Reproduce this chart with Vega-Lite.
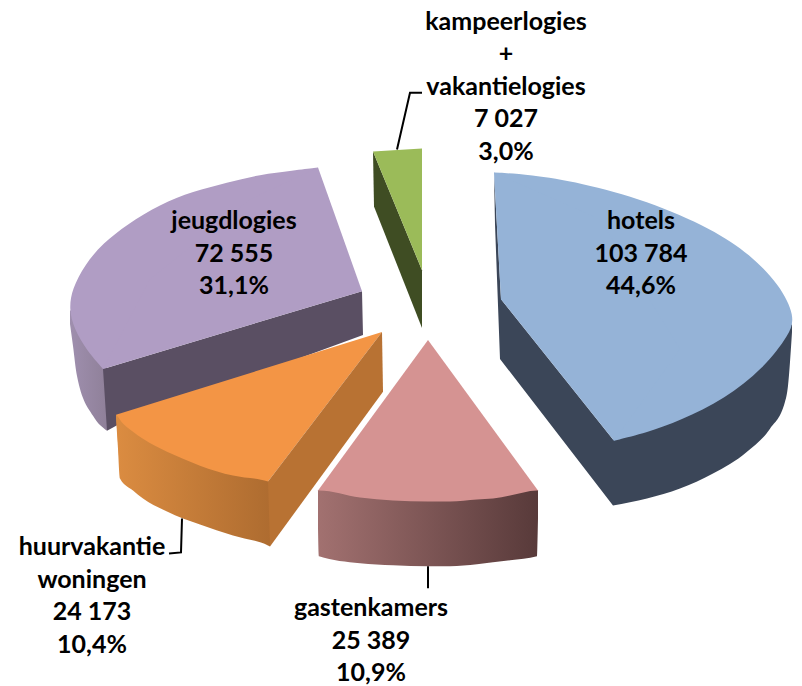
{"$schema":"https://vega.github.io/schema/vega-lite/v6.json","width":802,"height":686,"padding":0,"autosize":{"type":"fit","contains":"padding"},"background":"white","config":{"view":{"stroke":null}},
"datasets":{"outlines":[
{"f":"ji","i":0,"x":103,"y":370},{"f":"ji","i":1,"x":362,"y":292},{"f":"ji","i":2,"x":363,"y":336},{"f":"ji","i":3,"x":118,"y":426},{"f":"ji","i":4,"x":107,"y":432},
{"f":"jc","i":0,"x":318,"y":168},{"f":"jc","i":1,"x":293,"y":171},{"f":"jc","i":2,"x":260,"y":175},{"f":"jc","i":3,"x":227,"y":183},{"f":"jc","i":4,"x":193,"y":192},{"f":"jc","i":5,"x":160,"y":205},{"f":"jc","i":6,"x":127,"y":225},{"f":"jc","i":7,"x":103,"y":244},{"f":"jc","i":8,"x":85,"y":265},{"f":"jc","i":9,"x":72,"y":290},{"f":"jc","i":10,"x":69,"y":310},{"f":"jc","i":11,"x":74,"y":330},{"f":"jc","i":12,"x":87,"y":352},{"f":"jc","i":13,"x":103,"y":370},
{"f":"jp","i":0,"x":318,"y":168},{"f":"jp","i":1,"x":362,"y":292},{"f":"jp","i":2,"x":103,"y":370},{"f":"jp","i":3,"x":150,"y":280},{"f":"jp","i":4,"x":250,"y":200},
{"f":"gs","i":0,"x":373,"y":152},{"f":"gs","i":1,"x":422,"y":271},{"f":"gs","i":2,"x":422,"y":329},{"f":"gs","i":3,"x":374,"y":207},
{"f":"gt","i":0,"x":373,"y":152},{"f":"gt","i":1,"x":422,"y":149},{"f":"gt","i":2,"x":422,"y":271},
{"f":"hs","i":0,"x":494,"y":173},{"f":"hs","i":1,"x":501,"y":300},{"f":"hs","i":2,"x":614,"y":442},{"f":"hs","i":3,"x":613,"y":507},{"f":"hs","i":4,"x":500,"y":360},{"f":"hs","i":5,"x":495,"y":225},
{"f":"hc","i":0,"x":494,"y":173},{"f":"hc","i":1,"x":530,"y":175},{"f":"hc","i":2,"x":580,"y":183},{"f":"hc","i":3,"x":647,"y":201},{"f":"hc","i":4,"x":713,"y":230},{"f":"hc","i":5,"x":750,"y":255},{"f":"hc","i":6,"x":780,"y":286},{"f":"hc","i":7,"x":795,"y":317},{"f":"hc","i":8,"x":790,"y":335},{"f":"hc","i":9,"x":763,"y":370},{"f":"hc","i":10,"x":725,"y":400},{"f":"hc","i":11,"x":680,"y":422},{"f":"hc","i":12,"x":647,"y":434},{"f":"hc","i":13,"x":614,"y":442},
{"f":"hp","i":0,"x":494,"y":173},{"f":"hp","i":1,"x":501,"y":300},{"f":"hp","i":2,"x":614,"y":442},{"f":"hp","i":3,"x":680,"y":350},{"f":"hp","i":4,"x":600,"y":220},
{"f":"os","i":0,"x":382,"y":333},{"f":"os","i":1,"x":268,"y":483},{"f":"os","i":2,"x":270,"y":548},{"f":"os","i":3,"x":383,"y":393},
{"f":"ot","i":0,"x":382,"y":333},{"f":"ot","i":1,"x":268,"y":483},{"f":"ot","i":2,"x":268,"y":505},{"f":"ot","i":3,"x":120,"y":472},{"f":"ot","i":4,"x":116,"y":416},
{"f":"pt","i":0,"x":428,"y":341},{"f":"pt","i":1,"x":538,"y":492},{"f":"pt","i":2,"x":538,"y":512},{"f":"pt","i":3,"x":318,"y":512},{"f":"pt","i":4,"x":318,"y":492},
{"f":"l1","i":0,"x":397,"y":150},{"f":"l1","i":1,"x":410,"y":93},{"f":"l1","i":2,"x":422,"y":93},
{"f":"l2","i":0,"x":182,"y":520},{"f":"l2","i":1,"x":181,"y":554},{"f":"l2","i":2,"x":169,"y":555},
{"f":"l3","i":0,"x":428,"y":568},{"f":"l3","i":1,"x":428,"y":590}
],"bands":[
{"f":"jo","x":70,"y":312,"y2":325},{"f":"jo","x":73,"y":310,"y2":347},{"f":"jo","x":77,"y":310,"y2":377},{"f":"jo","x":93,"y":340,"y2":417},{"f":"jo","x":107,"y":365,"y2":432},
{"f":"ho","x":613,"y":440,"y2":507},{"f":"ho","x":647,"y":425,"y2":500},{"f":"ho","x":680,"y":410,"y2":490},{"f":"ho","x":713,"y":395,"y2":475},{"f":"ho","x":747,"y":375,"y2":453},{"f":"ho","x":770,"y":355,"y2":430},{"f":"ho","x":785,"y":335,"y2":403},{"f":"ho","x":788,"y":330,"y2":387},{"f":"ho","x":792,"y":325,"y2":333},
{"f":"of","x":116,"y":416,"y2":418},{"f":"of","x":118,"y":418,"y2":450},{"f":"of","x":120,"y":421,"y2":480},{"f":"of","x":133,"y":433,"y2":492},{"f":"of","x":143,"y":440,"y2":500},{"f":"of","x":167,"y":453,"y2":513},{"f":"of","x":183,"y":460,"y2":520},{"f":"of","x":200,"y":467,"y2":526},{"f":"of","x":233,"y":477,"y2":537},{"f":"of","x":268,"y":483,"y2":547},{"f":"of","x":270,"y":484,"y2":548},
{"f":"pf","x":318,"y":492,"y2":530},{"f":"pf","x":319,"y":492,"y2":558},{"f":"pf","x":360,"y":499,"y2":565},{"f":"pf","x":393,"y":502,"y2":567},{"f":"pf","x":428,"y":503,"y2":568},{"f":"pf","x":450,"y":503,"y2":568},{"f":"pf","x":477,"y":501,"y2":566},{"f":"pf","x":493,"y":500,"y2":564},{"f":"pf","x":510,"y":497,"y2":562},{"f":"pf","x":537,"y":492,"y2":558},{"f":"pf","x":538,"y":492,"y2":520}
],"labels":[
{"slice":"hotels","label":"hotels\n103 784\n44,6%","x":641,"y":222},
{"slice":"jeugdlogies","label":"jeugdlogies\n72 555\n31,1%","x":234,"y":222},
{"slice":"kampeerlogies + vakantielogies","label":"kampeerlogies\n+\nvakantielogies\n7 027\n3,0%","x":506,"y":22},
{"slice":"huurvakantiewoningen","label":"huurvakantie\nwoningen\n24 173\n10,4%","x":92,"y":549},
{"slice":"gastenkamers","label":"gastenkamers\n25 389\n10,9%","x":371,"y":610}
]},
"data":{"name":"outlines"},
"encoding":{"x":{"field":"x","type":"quantitative","axis":null,"scale":{"domain":[0,802],"nice":false,"zero":false}},"y":{"field":"y","type":"quantitative","axis":null,"scale":{"domain":[686,0],"nice":false,"zero":false}}},
"layer":[
{"data":{"name":"bands"},"transform":[{"filter":"datum.f==='jo'"}],"mark":{"type":"area","interpolate":"monotone","fill":{"x1":0,"x2":1,"y1":0,"y2":0,"gradient":"linear","stops":[{"offset":0,"color":"#9f8fae"},{"offset":1,"color":"#8f8099"}]}},"encoding":{"y2":{"field":"y2"}}},
{"transform":[{"filter":"datum.f==='ji'"}],"mark":{"type":"line","strokeWidth":0,"fill":"#5a4f63"},"encoding":{"order":{"field":"i"}}},
{"transform":[{"filter":"datum.f==='jc'"}],"mark":{"type":"line","interpolate":"basis","strokeWidth":0,"fill":"#b09dc4"},"encoding":{"order":{"field":"i"}}},
{"transform":[{"filter":"datum.f==='jp'"}],"mark":{"type":"line","strokeWidth":0,"fill":"#b09dc4"},"encoding":{"order":{"field":"i"}}},
{"transform":[{"filter":"datum.f==='gs'"}],"mark":{"type":"line","strokeWidth":0,"fill":"#3f4d23"},"encoding":{"order":{"field":"i"}}},
{"transform":[{"filter":"datum.f==='gt'"}],"mark":{"type":"line","strokeWidth":0,"fill":"#9bbb59"},"encoding":{"order":{"field":"i"}}},
{"transform":[{"filter":"datum.f==='hs'"}],"mark":{"type":"line","strokeWidth":0,"fill":"#3b4658"},"encoding":{"order":{"field":"i"}}},
{"data":{"name":"bands"},"transform":[{"filter":"datum.f==='ho'"}],"mark":{"type":"area","interpolate":"monotone","fill":"#3b4658"},"encoding":{"y2":{"field":"y2"}}},
{"transform":[{"filter":"datum.f==='hc'"}],"mark":{"type":"line","interpolate":"basis","strokeWidth":0,"fill":"#95b3d7"},"encoding":{"order":{"field":"i"}}},
{"transform":[{"filter":"datum.f==='hp'"}],"mark":{"type":"line","strokeWidth":0,"fill":"#95b3d7"},"encoding":{"order":{"field":"i"}}},
{"transform":[{"filter":"datum.f==='ot'"}],"mark":{"type":"line","strokeWidth":0,"fill":"#f39545"},"encoding":{"order":{"field":"i"}}},
{"data":{"name":"bands"},"transform":[{"filter":"datum.f==='of'"}],"mark":{"type":"area","interpolate":"monotone","fill":{"x1":0,"x2":1,"y1":0,"y2":0,"gradient":"linear","stops":[{"offset":0,"color":"#db8c41"},{"offset":1,"color":"#ae6c30"}]}},"encoding":{"y2":{"field":"y2"}}},
{"transform":[{"filter":"datum.f==='os'"}],"mark":{"type":"line","strokeWidth":0,"fill":"#b87233"},"encoding":{"order":{"field":"i"}}},
{"transform":[{"filter":"datum.f==='pt'"}],"mark":{"type":"line","strokeWidth":0,"fill":"#d59392"},"encoding":{"order":{"field":"i"}}},
{"data":{"name":"bands"},"transform":[{"filter":"datum.f==='pf'"}],"mark":{"type":"area","interpolate":"monotone","fill":{"x1":0,"x2":1,"y1":0,"y2":0,"gradient":"linear","stops":[{"offset":0,"color":"#a27170"},{"offset":1,"color":"#583a3a"}]}},"encoding":{"y2":{"field":"y2"}}},
{"transform":[{"filter":"datum.f==='l1'||datum.f==='l2'||datum.f==='l3'"}],"mark":{"type":"line","stroke":"#000000","strokeWidth":2},"encoding":{"order":{"field":"i"},"detail":{"field":"f"}}},
{"data":{"name":"labels"},"mark":{"type":"text","font":"Lato","fontWeight":"bold","fontSize":25,"color":"#000000","align":"center","baseline":"middle","lineBreak":"\n","lineHeight":32.4},"encoding":{"text":{"field":"label"}}}
]}
